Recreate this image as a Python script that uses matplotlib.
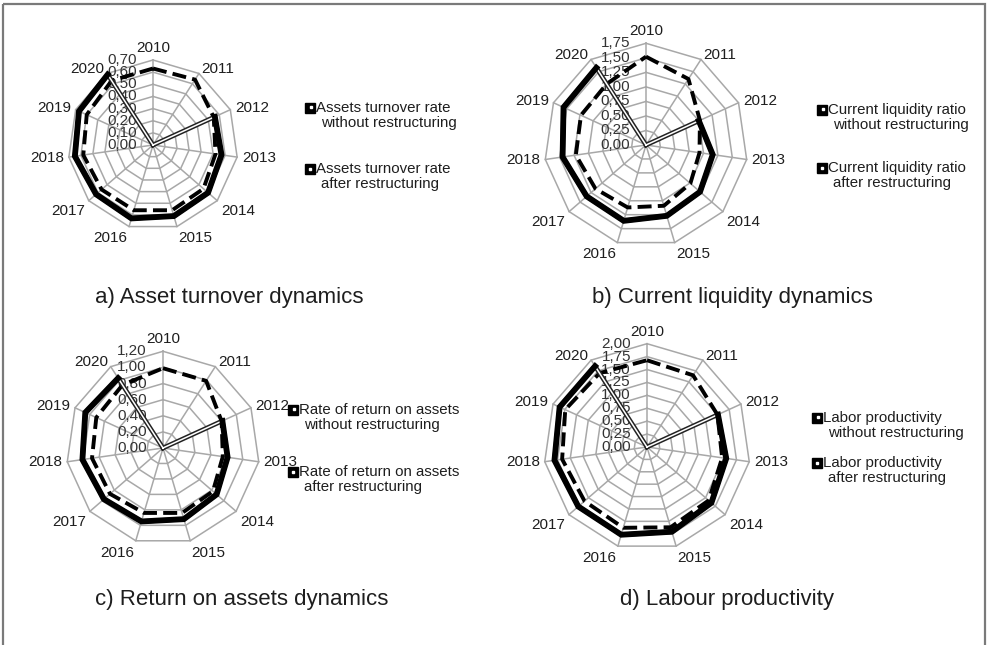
import numpy as np
import matplotlib
matplotlib.use("Agg")
import matplotlib.pyplot as plt
from matplotlib.patches import Rectangle

plt.rcParams["font.family"] = ["Liberation Sans", "DejaVu Sans"]

years = ["2010", "2011", "2012", "2013", "2014", "2015", "2016", "2017", "2018", "2019", "2020"]

a_without = [0.63, 0.64, 0.55, 0.52, 0.55, 0.56, 0.56, 0.56, 0.58, 0.60, 0.63]
a_after = [0, 0, 0.56, 0.57, 0.60, 0.61, 0.63, 0.62, 0.65, 0.67, 0.69]
a_ticks = [0.0, 0.1, 0.2, 0.3, 0.4, 0.5, 0.6, 0.7]

b_without = [1.52, 1.35, 1.02, 0.93, 1.01, 1.09, 1.12, 1.15, 1.22, 1.23, 1.25]
b_after = [0, 0, 1.00, 1.16, 1.23, 1.27, 1.36, 1.35, 1.45, 1.56, 1.58]
b_ticks = [0.0, 0.25, 0.5, 0.75, 1.0, 1.25, 1.5, 1.75]

c_without = [0.99, 0.99, 0.80, 0.75, 0.82, 0.84, 0.84, 0.87, 0.89, 0.91, 0.93]
c_after = [0, 0, 0.81, 0.81, 0.88, 0.92, 0.95, 0.97, 1.01, 1.06, 1.03]
c_ticks = [0.0, 0.2, 0.4, 0.6, 0.8, 1.0, 1.2]

d_without = [1.68, 1.65, 1.50, 1.47, 1.58, 1.62, 1.63, 1.60, 1.66, 1.74, 1.70]
d_after = [0, 0, 1.51, 1.55, 1.65, 1.71, 1.77, 1.76, 1.81, 1.86, 1.86]
d_ticks = [0.0, 0.25, 0.5, 0.75, 1.0, 1.25, 1.5, 1.75, 2.0]

W, H = 991, 645
fig = plt.figure(figsize=(W / 100, H / 100), dpi=100)
GRID = "#a8a8a8"
INK = "#1e1e1e"

ang = np.linspace(0, 2 * np.pi, len(years), endpoint=False)


def radar(cx, cy, R, without, after, ticks):
    ax = fig.add_axes([(cx - R) / W, 1 - (cy + R) / H, 2 * R / W, 2 * R / H], projection="polar")
    ax.set_theta_zero_location("N")
    ax.set_theta_direction(-1)
    rmax = ticks[-1]
    ax.set_ylim(0, rmax)
    ax.grid(False)
    ax.spines["polar"].set_visible(False)
    ax.set_xticks([]); ax.set_yticks([])
    ax.patch.set_alpha(0)
    th = np.append(ang, ang[0])
    for t in ticks[1:]:
        ax.plot(th, [t] * len(th), color=GRID, lw=1.1, clip_on=False, zorder=1)
    for a in ang:
        ax.plot([a, a], [0, rmax], color=GRID, lw=1.1, clip_on=False, zorder=1)
    # tick labels
    for t in ticks:
        ax.annotate(f"{t:.2f}".replace(".", ","), xy=(0, t), xytext=(-16, 0),
                    textcoords="offset pixels", ha="right", va="center",
                    fontsize=11, color="#333333", zorder=2)
    # year labels
    for a, y in zip(ang, years):
        s, c = np.sin(a), np.cos(a)
        ha = "center" if abs(s) < 0.1 else ("left" if s > 0 else "right")
        if c > 0.95:
            va = "bottom"
        elif c < -0.5:
            va = "top"
        else:
            va = "center"
        ax.annotate(y, xy=(a, rmax), xytext=(5 * s, 5 * c), textcoords="offset pixels",
                    ha=ha, va=va, fontsize=11, color=INK, annotation_clip=False)
    wo = np.append(without, without[0])
    af = np.append(after, after[0])
    ax.plot(th, wo, color="black", lw=2.8, ls=(0, (3.6, 1.6)), zorder=4, clip_on=False)
    # after restructuring: double line, solid thick where values exist
    ax.plot(th, af, color="#222222", lw=3.3, zorder=5, clip_on=False)
    ax.plot(th, af, color="white", lw=1.1, zorder=6, clip_on=False)
    afm = np.where(af > 0, af, np.nan)
    ax.plot(th, afm, color="black", lw=4.2, zorder=7, clip_on=False, solid_joinstyle="miter")
    return ax


radar(153, 145, 85, a_without, a_after, a_ticks)
radar(646, 145, 101.7, b_without, b_after, b_ticks)
radar(163, 448, 96.7, c_without, c_after, c_ticks)
radar(647, 447, 103.3, d_without, d_after, d_ticks)

# overlay for legends, titles and frame (pixel coordinates)
ov = fig.add_axes([0, 0, 1, 1], zorder=10)
ov.set_xlim(0, W); ov.set_ylim(H, 0); ov.axis("off"); ov.patch.set_alpha(0)
ov.add_patch(Rectangle((3, 4), 982, 700, fill=False, ec="#7a7a7a", lw=1.6))

legends = [
    (310, 108, 169, "Assets turnover rate"),
    (822, 110, 168, "Current liquidity ratio"),
    (293, 410, 472, "Rate of return on assets"),
    (817, 418, 463, "Labor productivity"),
]
for x, y1, y2, name in legends:
    ov.plot([x], [y1], marker="s", ms=6.5, color="black", ls="none")
    ov.plot([x + 1.2], [y1 - 1.2], marker="s", ms=2, color="white", ls="none")
    ov.text(x + 6, y1, name, fontsize=10.8, va="center", ha="left", color=INK)
    ov.text(x + 11, y1 + 15, "without restructuring", fontsize=10.8, va="center", ha="left", color=INK)
    ov.plot([x], [y2], marker="s", ms=6.5, color="black", ls="none")
    ov.plot([x], [y2], marker="s", ms=2, color="white", ls="none")
    ov.text(x + 6, y2, name, fontsize=10.8, va="center", ha="left", color=INK)
    ov.text(x + 11, y2 + 15, "after restructuring", fontsize=10.8, va="center", ha="left", color=INK)

titles = [
    (95, 297, "a) Asset turnover dynamics"),
    (592, 297, "b) Current liquidity dynamics"),
    (95, 600, "c) Return on assets dynamics"),
    (620, 600, "d) Labour productivity"),
]
for x, y, t in titles:
    ov.text(x, y, t, fontsize=16, va="center", ha="left", color=INK)

fig.savefig("out.png", dpi=100, facecolor="white")
